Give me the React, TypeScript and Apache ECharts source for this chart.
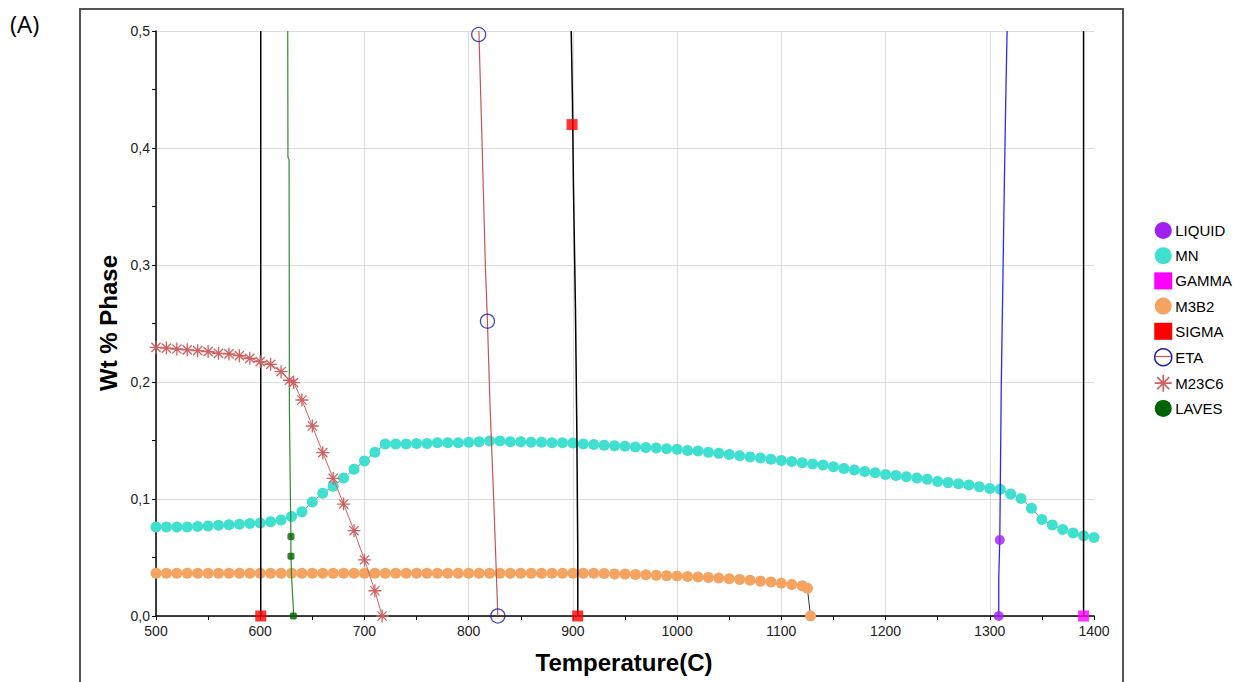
import React, { useEffect, useRef } from "react";
import * as echarts from "echarts";

const X_TICKS = [500, 600, 700, 800, 900, 1000, 1100, 1200, 1300, 1400];
const Y_TICKS = [0, 0.1, 0.2, 0.3, 0.4, 0.5];

const MN_POINTS: number[][] = [
  [500, 0.076], [510, 0.076], [520, 0.076], [530, 0.076], [540, 0.0765], [550, 0.077], [560, 0.0775],
  [570, 0.078], [580, 0.0785], [590, 0.079], [600, 0.0795], [610, 0.0805], [620, 0.082], [630, 0.085],
  [640, 0.089], [650, 0.0975], [660, 0.105], [670, 0.111], [680, 0.118], [690, 0.1255], [700, 0.1325],
  [710, 0.14], [720, 0.147], [730, 0.147], [740, 0.147], [750, 0.1475], [760, 0.1475], [770, 0.148],
  [780, 0.148], [790, 0.148], [800, 0.1485], [810, 0.149], [820, 0.1495], [830, 0.1495], [840, 0.149],
  [850, 0.149], [860, 0.1485], [870, 0.1485], [880, 0.148], [890, 0.148], [900, 0.1478], [910, 0.147],
  [920, 0.1465], [930, 0.146], [940, 0.1455], [950, 0.145], [960, 0.1445], [970, 0.144], [980, 0.1435],
  [990, 0.143], [1000, 0.1425], [1010, 0.1415], [1020, 0.141], [1030, 0.14], [1040, 0.139], [1050, 0.138],
  [1060, 0.137], [1070, 0.136], [1080, 0.135], [1090, 0.134], [1100, 0.133], [1110, 0.132], [1120, 0.131],
  [1130, 0.13], [1140, 0.129], [1150, 0.1275], [1160, 0.126], [1170, 0.1248], [1180, 0.1235], [1190, 0.1225],
  [1200, 0.121], [1210, 0.12], [1220, 0.119], [1230, 0.118], [1240, 0.1168], [1250, 0.115], [1260, 0.114],
  [1270, 0.113], [1280, 0.112], [1290, 0.1105], [1300, 0.109], [1310, 0.1083], [1320, 0.1043], [1330, 0.1005],
  [1340, 0.092], [1350, 0.0825], [1360, 0.0778], [1370, 0.074], [1380, 0.071], [1390, 0.0685], [1400, 0.067],
];

const M3B2_POINTS: number[][] = [
  [500, 0.0365], [510, 0.0365], [520, 0.0365], [530, 0.0365], [540, 0.0365], [550, 0.0365], [560, 0.0365],
  [570, 0.0365], [580, 0.0365], [590, 0.0365], [600, 0.0365], [610, 0.0365], [620, 0.0365], [630, 0.0365],
  [640, 0.0365], [650, 0.0365], [660, 0.0365], [670, 0.0365], [680, 0.0365], [690, 0.0365], [700, 0.0365],
  [710, 0.0365], [720, 0.0365], [730, 0.0365], [740, 0.0365], [750, 0.0365], [760, 0.0365], [770, 0.0365],
  [780, 0.0365], [790, 0.0365], [800, 0.0365], [810, 0.0365], [820, 0.0365], [830, 0.0365], [840, 0.0365],
  [850, 0.0365], [860, 0.0365], [870, 0.0365], [880, 0.0365], [890, 0.0365], [900, 0.0365], [910, 0.0365],
  [920, 0.0365], [930, 0.0363], [940, 0.036], [950, 0.0358], [960, 0.0355], [970, 0.0352], [980, 0.0348],
  [990, 0.0345], [1000, 0.0342], [1010, 0.0338], [1020, 0.0333], [1030, 0.033], [1040, 0.0325], [1050, 0.0318],
  [1060, 0.0313], [1070, 0.0306], [1080, 0.0298], [1090, 0.029], [1100, 0.028], [1110, 0.027], [1120, 0.0258],
  [1125, 0.0238], [1128, 0],
];

const M23C6_POINTS: number[][] = [
  [500, 0.2296], [510, 0.229], [520, 0.2282], [530, 0.2275], [540, 0.2268], [550, 0.226], [560, 0.2245],
  [570, 0.224], [580, 0.2225], [590, 0.2202], [600, 0.2174], [610, 0.2151], [620, 0.2088], [628, 0.2015],
  [632, 0.1995], [640, 0.1846], [650, 0.1624], [660, 0.1396], [670, 0.1177], [680, 0.0957], [690, 0.0729],
  [700, 0.0479], [710, 0.0216], [717, 0],
];

const ETA_LINE: number[][] = [[809.8, 0.5], [813, 0.4], [816, 0.3], [818, 0.252], [820.5, 0.18], [824, 0.1], [828, 0]];
const ETA_MARKERS: number[][] = [[809.6, 0.497], [818, 0.252], [828, 0]];

const SIGMA_LINE_A: number[][] = [[600.5, 0.5], [600.5, 0]];
const SIGMA_LINE_B: number[][] = [[898.4, 0.5], [899.6, 0.44], [900.5, 0.37], [902.5, 0.26], [903.8, 0.157], [904.7, 0.054], [904.7, 0]];
const SIGMA_MARKERS: number[][] = [[600.5, 0], [899.2, 0.42], [904.6, 0]];

const GAMMA_LINE: number[][] = [[1390, 0.5], [1390, 0]];
const GAMMA_MARKERS: number[][] = [[1390, 0]];

const LIQUID_LINE: number[][] = [[1316.6, 0.5], [1315.3, 0.44], [1314, 0.37], [1311, 0.195], [1309.6, 0.065], [1308.6, 0.032], [1308.6, 0]];
const LIQUID_MARKERS: number[][] = [[1309.6, 0.065], [1308.6, 0]];

const LAVES_LINE: number[][] = [[626.4, 0.5], [626.6, 0.392], [627.7, 0.39], [628, 0.176], [629.4, 0.068], [629.5, 0.051], [630, 0.035], [631.8, 0.006], [631.8, 0]];
const LAVES_MARKERS: number[][] = [[629.5, 0.068], [629.5, 0.051], [631.8, 0]];

const LEGEND_NAMES = ["LIQUID", "MN", "GAMMA", "M3B2", "SIGMA", "ETA", "M23C6", "LAVES"];

const STAR =
  "path://M0 9H20V11H0Z M9 0H11V20H9Z M2.2 3.6L3.6 2.2L17.8 16.4L16.4 17.8Z M16.4 2.2L17.8 3.6L3.6 17.8L2.2 16.4Z";

const C = {
  LIQUID: "#a020f0",
  LIQUID_LINE: "#2a2aff",
  MN: "#40e0d0",
  GAMMA: "#ff00ff",
  M3B2: "#f4a460",
  SIGMA: "#ff0000",
  ETA: "#1c1ca0",
  ETA_LINE: "#c05555",
  M23C6: "#d06060",
  LAVES: "#006400",
  LAVES_LINE: "#2f8a2f",
};

const FONT = "'Liberation Sans', Arial, sans-serif";

function lineSeries(name: string, data: number[][], color: string, width = 1, z = 3) {
  return {
    name,
    type: "line",
    data,
    symbol: "none",
    lineStyle: { color, width },
    itemStyle: { color },
    z,
    silent: true,
  };
}

function markerSeries(name: string, data: number[][], symbol: string, size: number, itemStyle: any, z = 5) {
  return {
    name,
    type: "scatter",
    data,
    symbol,
    symbolSize: size,
    itemStyle,
    clip: false,
    z,
    silent: true,
  };
}

export default function App() {
  const ref = useRef<HTMLDivElement>(null);
  useEffect(() => {
    if (!ref.current) return;
    const chart = echarts.init(ref.current, undefined, { renderer: "svg" });
    const option: any = {
      animation: false,
      backgroundColor: "#fff",
      grid: { left: 156, top: 31, right: 149, bottom: 66 },
      xAxis: {
        type: "value",
        min: X_TICKS[0],
        max: X_TICKS[X_TICKS.length - 1],
        interval: 100,
        axisLine: { show: true, onZero: false, lineStyle: { color: "#000", width: 1.5 } },
        axisTick: { show: true, length: 4, lineStyle: { color: "#000" } },
        minorTick: { show: true, splitNumber: 2, length: 4, lineStyle: { color: "#000" } },
        axisLabel: { color: "#222", fontSize: 14, fontFamily: FONT, margin: 8, formatter: (v: number) => String(v) },
        splitLine: { show: true, showMaxLine: false, lineStyle: { color: "#dcdcdc", width: 1 } },
      },
      yAxis: {
        type: "value",
        min: Y_TICKS[0],
        max: Y_TICKS[Y_TICKS.length - 1],
        interval: 0.1,
        axisLine: { show: true, lineStyle: { color: "#000", width: 1.5 } },
        axisTick: { show: true, length: 4, lineStyle: { color: "#000" } },
        minorTick: { show: true, splitNumber: 2, length: 4, lineStyle: { color: "#000" } },
        axisLabel: {
          color: "#222",
          fontSize: 14,
          fontFamily: FONT,
          margin: 6,
          formatter: (v: number) => v.toFixed(1).replace(".", ","),
        },
        splitLine: { show: true, lineStyle: { color: "#dcdcdc", width: 1 } },
      },
      legend: {
        orient: "vertical",
        left: 1154,
        top: 222,
        padding: 0,
        itemWidth: 18,
        itemHeight: 17,
        itemGap: 8.2,
        selectedMode: false,
        textStyle: { fontFamily: FONT, fontSize: 15, color: "#000", padding: [0, 0, 0, -2] },
        data: [
          { name: "LIQUID", icon: "circle", itemStyle: { color: C.LIQUID } },
          { name: "MN", icon: "circle", itemStyle: { color: C.MN } },
          { name: "GAMMA", icon: "rect", itemStyle: { color: C.GAMMA } },
          { name: "M3B2", icon: "circle", itemStyle: { color: C.M3B2 } },
          { name: "SIGMA", icon: "rect", itemStyle: { color: C.SIGMA } },
          { name: "ETA", icon: "circle", itemStyle: { color: "#fff", borderColor: C.ETA, borderWidth: 1.5 } },
          { name: "M23C6", icon: STAR, itemStyle: { color: C.M23C6 } },
          { name: "LAVES", icon: "circle", itemStyle: { color: C.LAVES } },
        ].filter((d) => LEGEND_NAMES.includes(d.name)),
      },
      graphic: [
        {
          type: "rect",
          shape: { x: 80, y: 9, width: 1043, height: 700 },
          style: { fill: "none", stroke: "#555", lineWidth: 2 },
          silent: true,
        },
        {
          type: "text",
          left: 10,
          top: 11,
          style: { text: "(A)", fontSize: 24, fontFamily: "'Open Sans', sans-serif", fill: "#000" },
        },
        {
          type: "text",
          x: 108,
          y: 323,
          rotation: Math.PI / 2,
          style: {
            text: "Wt % Phase",
            fontSize: 24,
            fontWeight: "bold",
            fontFamily: FONT,
            fill: "#000",
            align: "center",
            verticalAlign: "middle",
          },
        },
        {
          type: "text",
          x: 624,
          y: 662,
          style: {
            text: "Temperature(C)",
            fontSize: 24,
            fontWeight: "bold",
            fontFamily: FONT,
            fill: "#000",
            align: "center",
            verticalAlign: "middle",
          },
        },
        {
          type: "line",
          shape: { x1: 1155, y1: 356.5, x2: 1171, y2: 356.5 },
          style: { stroke: C.ETA_LINE, lineWidth: 1.2 },
          z: 100,
        },
      ],
      series: [
        {
          name: "MN",
          type: "line",
          data: MN_POINTS,
          symbol: "circle",
          symbolSize: 11,
          showSymbol: true,
          itemStyle: { color: C.MN },
          lineStyle: { color: "#7f8f8f", width: 1 },
          z: 2,
          clip: false,
          silent: true,
        },
        {
          name: "M3B2",
          type: "line",
          data: M3B2_POINTS,
          symbol: "circle",
          symbolSize: 11,
          showSymbol: true,
          itemStyle: { color: C.M3B2 },
          lineStyle: { color: "#333", width: 1 },
          z: 2,
          clip: false,
          silent: true,
        },
        lineSeries("SIGMA", SIGMA_LINE_A, "#000", 1.5),
        lineSeries("SIGMA", SIGMA_LINE_B, "#000", 1.5),
        markerSeries("SIGMA", SIGMA_MARKERS, "rect", 11, { color: C.SIGMA }),
        lineSeries("GAMMA", GAMMA_LINE, "#000", 1.5),
        markerSeries("GAMMA", GAMMA_MARKERS, "rect", 11, { color: C.GAMMA }),
        lineSeries("ETA", ETA_LINE, C.ETA_LINE, 1.2),
        markerSeries("ETA", ETA_MARKERS, "circle", 14, { color: "rgba(0,0,0,0)", borderColor: C.ETA, borderWidth: 1.3 }),
        {
          name: "M23C6",
          type: "line",
          data: M23C6_POINTS,
          symbol: STAR,
          symbolSize: 13,
          showSymbol: true,
          itemStyle: { color: C.M23C6 },
          lineStyle: { color: C.M23C6, width: 1 },
          z: 4,
          clip: false,
          silent: true,
        },
        lineSeries("LAVES", LAVES_LINE, C.LAVES_LINE, 1.2),
        markerSeries("LAVES", LAVES_MARKERS, "roundRect", 7, { color: C.LAVES }),
        lineSeries("LIQUID", LIQUID_LINE, C.LIQUID_LINE, 1.3),
        markerSeries("LIQUID", LIQUID_MARKERS, "circle", 10, { color: C.LIQUID }),
      ],
    };
    chart.setOption(option);
    return () => chart.dispose();
  }, []);
  return <div ref={ref} style={{ position: "fixed", left: 0, top: 0, width: 1243, height: 682 }} />;
}
